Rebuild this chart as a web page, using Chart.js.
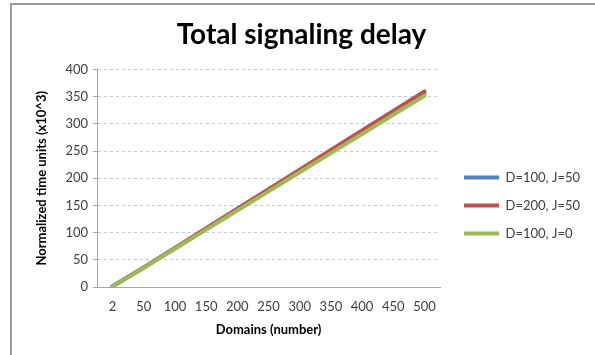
<!DOCTYPE html>
<html>
<head>
<meta charset="utf-8">
<script src="https://cdn.jsdelivr.net/npm/chart.js@4.4.1/dist/chart.umd.min.js"></script>
<style>
  body { margin: 0; background: #fff; }
  #chart { display: block; }
</style>
</head>
<body>
<canvas id="chart" width="595" height="355"></canvas>
<script>
var domains = ['2', '50', '100', '150', '200', '250', '300', '350', '400', '450', '500'],
    d100j50 = [1.4, 35.6, 71.2, 106.8, 142.4, 178, 213.6, 249.2, 284.8, 320.4, 357],
    d200j50 = [1.5, 36, 72, 108, 144, 180, 216, 252, 288, 324, 360],
    d100j0 = [1.4, 35.2, 70.4, 105.6, 140.8, 176, 211.2, 246.4, 281.6, 316.8, 352],
    seriesNames = ['D=100, J=50', 'D=200, J=50', 'D=100, J=0'],
    seriesColors = ['#4f81bd', '#c0504d', '#9bbb59'];

var fontFamily = 'Lato, "Open Sans", sans-serif';

// white background plus the thin grey frame on the left and top
var frame = {
    id: 'frame',
    beforeDraw: function(chart) {
        var ctx = chart.ctx;
        ctx.save();
        ctx.fillStyle = '#fff';
        ctx.fillRect(0, 0, chart.width, chart.height);
        ctx.strokeStyle = '#9a9a9a';
        ctx.lineWidth = 2;
        ctx.beginPath();
        ctx.moveTo(11, chart.height);
        ctx.lineTo(11, 4);
        ctx.lineTo(chart.width, 4);
        ctx.stroke();
        ctx.restore();
    }
};

// order: higher numbers are painted first, so the last series ends up on top
function line(label, data, color, order) {
    return {
        label: label,
        data: data,
        borderColor: color,
        backgroundColor: color,
        borderWidth: 4,
        borderCapStyle: 'round',
        pointRadius: 0,
        fill: false,
        tension: 0,
        order: order
    };
}

var chart = new Chart(document.getElementById('chart'), {
    type: 'line',
    data: {
        labels: domains,
        datasets: [
            line(seriesNames[0], d100j50, seriesColors[0], 2),
            line(seriesNames[1], d200j50, seriesColors[1], 1),
            line(seriesNames[2], d100j0, seriesColors[2], 0)
        ]
    },
    plugins: [frame],
    options: {
        responsive: false,
        devicePixelRatio: 1,
        animation: false,
        layout: {padding: {left: 13, top: 4, right: 5, bottom: 0}},
        plugins: {
            title: {
                display: true,
                text: 'Total signaling delay',
                color: '#000',
                font: {family: fontFamily, size: 28, weight: 'bold'},
                padding: {top: 14, bottom: 18}
            },
            legend: {
                position: 'right',
                align: 'center',
                maxWidth: 220,
                // empty title only pushes the entries a bit lower
                title: {display: true, text: '', font: {size: 1}, padding: {top: 51, bottom: 0}},
                labels: {
                    usePointStyle: true,
                    pointStyle: 'line',
                    pointStyleWidth: 35,
                    padding: 15,
                    color: '#404040',
                    font: {family: fontFamily, size: 13},
                    sort: function(a, b) { return a.datasetIndex - b.datasetIndex; }
                }
            },
            tooltip: {enabled: false}
        },
        scales: {
            x: {
                offset: true,
                grid: {display: false, drawTicks: false},
                border: {color: '#a6a6a6', width: 1},
                ticks: {color: '#404040', padding: 12, font: {family: fontFamily, size: 13}},
                title: {
                    display: true,
                    text: 'Domains (number)',
                    color: '#000',
                    font: {family: fontFamily, size: 13, weight: 'bold'},
                    padding: {top: 0, bottom: 17}
                },
                afterFit: function(scale) { scale.height = 68; }
            },
            y: {
                min: 0,
                max: 400,
                ticks: {stepSize: 50, color: '#404040', padding: 5, font: {family: fontFamily, size: 13}},
                grid: {color: '#b9cbeb', lineWidth: 1, drawTicks: true, tickLength: 4, tickColor: '#a6a6a6', tickBorderDash: []},
                border: {color: '#a6a6a6', width: 1, dash: [3, 3]},
                title: {
                    display: true,
                    text: 'Normalized time units (x10^3)',
                    color: '#000',
                    font: {family: fontFamily, size: 13, weight: 'bold'},
                    padding: {top: 21, bottom: 0}
                },
                afterFit: function(scale) { scale.width = 84; }
            },
            // empty space between the plot and the legend
            gap: {
                type: 'linear',
                position: 'right',
                display: true,
                ticks: {display: false},
                grid: {display: false, drawTicks: false},
                border: {display: false},
                afterFit: function(scale) { scale.width = 9; }
            }
        }
    }
});
</script>
</body>
</html>
